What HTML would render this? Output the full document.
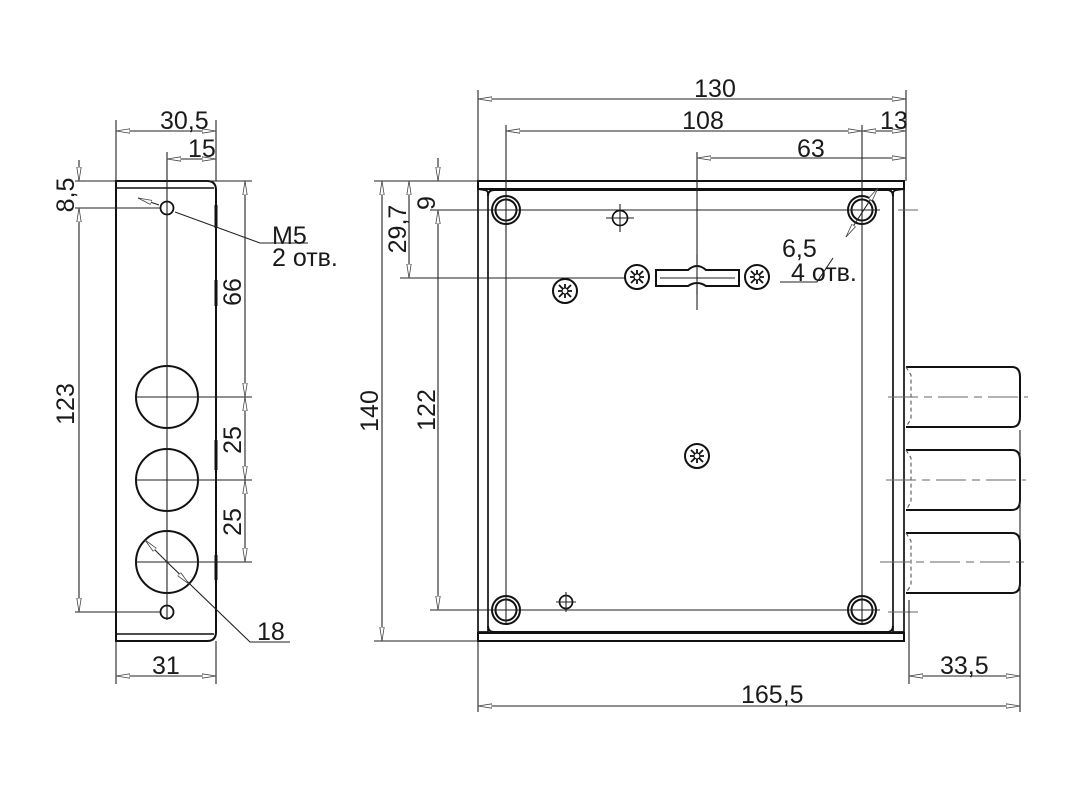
<!DOCTYPE html>
<html><head><meta charset="utf-8"><style>
html,body{margin:0;padding:0;background:#fff}
svg{display:block}
text{font-family:"Liberation Sans",Arial,sans-serif;font-size:25px;fill:#1a1a1a}
</style></head><body>
<svg width="1091" height="789" viewBox="0 0 1091 789" xmlns="http://www.w3.org/2000/svg">
<defs>
<marker id="a" viewBox="0 0 14 6" refX="14" refY="3" markerWidth="14" markerHeight="6" orient="auto-start-reverse" markerUnits="userSpaceOnUse">
<path d="M0,0.8 L14,3 L0,5.2 Z" fill="#fff" stroke="#444" stroke-width="0.8"/></marker>
<g id="scr"><circle r="12" fill="#fff" stroke="#111" stroke-width="2"/>
<path d="M-6,-6 L6,6 M-6,6 L6,-6 M0,-7 V7 M-7,0 H7" stroke="#111" stroke-width="1.8"/>
<circle r="3" fill="#fff" stroke="#111" stroke-width="1.2"/></g>
<g id="hole"><circle r="14" fill="#fff" stroke="#111" stroke-width="2"/><circle r="10.5" fill="none" stroke="#111" stroke-width="2"/></g>
</defs>
<g stroke="#222" stroke-width="1.1" fill="none">
<!-- LEFT VIEW -->
<path d="M116,181 H207 Q216,181 216,190 V632 Q216,641 207,641 H116 Z" stroke-width="2" stroke="#111"/>
<line x1="116" y1="188" x2="214" y2="188" stroke-width="1.6" stroke="#111"/>
<line x1="116" y1="634" x2="214" y2="634" stroke-width="1.6" stroke="#111"/>
<g stroke-width="3" stroke="#111"><line x1="216" y1="205" x2="216" y2="228"/><line x1="216" y1="280" x2="216" y2="306"/><line x1="216" y1="440" x2="216" y2="470"/><line x1="216" y1="555" x2="216" y2="580"/></g>
<circle cx="167" cy="208" r="6.5" stroke="#111" stroke-width="1.8"/>
<circle cx="167" cy="612" r="6.5" stroke="#111" stroke-width="1.8"/>
<circle cx="167" cy="397" r="31" stroke="#111" stroke-width="2"/>
<circle cx="167" cy="480" r="31" stroke="#111" stroke-width="2"/>
<circle cx="167" cy="562" r="31" stroke="#111" stroke-width="2"/>
<line x1="167" y1="152" x2="167" y2="620"/>
<line x1="136" y1="397" x2="252" y2="397"/>
<line x1="136" y1="480" x2="252" y2="480"/>
<line x1="136" y1="562" x2="252" y2="562"/>
<line x1="75" y1="181" x2="252" y2="181"/>
<line x1="75" y1="208" x2="160" y2="208"/>
<line x1="75" y1="612" x2="160" y2="612"/>
<line x1="116" y1="120" x2="116" y2="181"/><line x1="216" y1="120" x2="216" y2="181"/>
<line x1="116" y1="641" x2="116" y2="684"/><line x1="216" y1="641" x2="216" y2="684"/>
<line x1="116" y1="131" x2="216" y2="131" marker-start="url(#a)" marker-end="url(#a)"/>
<line x1="167" y1="159" x2="216" y2="159" marker-start="url(#a)" marker-end="url(#a)"/>
<line x1="116" y1="676" x2="216" y2="676" marker-start="url(#a)" marker-end="url(#a)"/>
<line x1="79" y1="160" x2="79" y2="181" marker-end="url(#a)"/>
<line x1="79" y1="208" x2="79" y2="612" marker-start="url(#a)" marker-end="url(#a)"/>
<line x1="245" y1="181" x2="245" y2="397" marker-start="url(#a)" marker-end="url(#a)"/>
<line x1="245" y1="397" x2="245" y2="480" marker-start="url(#a)" marker-end="url(#a)"/>
<line x1="245" y1="480" x2="245" y2="562" marker-start="url(#a)" marker-end="url(#a)"/>
<path d="M138,198 L159,205 M175,212 L260,243 H308" marker-start="url(#a)"/>
<path d="M145,540 L167,562 L250,642 H290"/>
<line x1="145" y1="540" x2="150" y2="545" marker-start="url(#a)"/>
<line x1="189" y1="584" x2="184" y2="579" marker-start="url(#a)"/>
<!-- RIGHT VIEW body -->
<g stroke="#111" stroke-width="2">
<rect x="478" y="181" width="426" height="8"/>
<rect x="478" y="633" width="426" height="8"/>
<path d="M478,189 V632 H488 V194 Q488,190 484,190 Z" stroke-width="1.7"/>
<path d="M904,189 V632 H893 V194 Q893,190 897,190 Z" stroke-width="1.7"/>
<path d="M488,626 Q488,632 494,632 H887 Q893,632 893,626"/>
<path d="M488,196 Q488,190 494,190 H887 Q893,190 893,196"/>
</g>
<!-- bolts -->
<g stroke="#111" stroke-width="2">
<path d="M906,367 H1012 Q1020,367 1020,377 V417 Q1020,427 1012,427 H906"/>
<path d="M906,450 H1012 Q1020,450 1020,460 V500 Q1020,510 1012,510 H906"/>
<path d="M906,533 H1012 Q1020,533 1020,543 V583 Q1020,593 1012,593 H906"/>
</g>
<g stroke-dasharray="4,3" stroke="#555"><path d="M906,367 L911,375 V419 L906,427"/><path d="M906,450 L911,458 V502 L906,510"/><path d="M906,533 L911,541 V585 L906,593"/></g>
<g stroke="#666" stroke-dasharray="30,6,8,6"><line x1="888" y1="397" x2="1028" y2="397"/><line x1="886" y1="480" x2="1026" y2="480"/><line x1="880" y1="562" x2="1026" y2="562"/></g>
<line x1="888" y1="612" x2="918" y2="612" stroke="#666"/>
<line x1="898" y1="210" x2="918" y2="210" stroke="#666"/>
<!-- centre lines -->
<line x1="506" y1="125" x2="506" y2="620"/>
<line x1="862" y1="125" x2="862" y2="620"/>
<line x1="697" y1="152" x2="697" y2="310"/>
<line x1="430" y1="210" x2="880" y2="210"/>
<line x1="400" y1="278" x2="650" y2="278"/>
<line x1="430" y1="610" x2="880" y2="610"/>
<use href="#hole" x="506" y="210"/><use href="#hole" x="862" y="210"/>
<use href="#hole" x="506" y="610"/><use href="#hole" x="862" y="610"/>
<line x1="506" y1="196" x2="506" y2="224"/><line x1="862" y1="196" x2="862" y2="224"/>
<line x1="506" y1="596" x2="506" y2="624"/><line x1="862" y1="596" x2="862" y2="624"/>
<line x1="492" y1="210" x2="520" y2="210"/><line x1="848" y1="210" x2="876" y2="210"/>
<line x1="492" y1="610" x2="520" y2="610"/><line x1="848" y1="610" x2="876" y2="610"/>
<circle cx="620" cy="218" r="7.5" stroke="#111" stroke-width="1.7"/>
<path d="M606,218 H634 M620,204 V232"/>
<circle cx="566" cy="602" r="6.5" stroke="#111" stroke-width="1.7"/>
<path d="M556,602 H576 M566,592 V612"/>
<!-- keyhole -->
<path d="M656,270 H688 Q697,262 706,270 H739 V286 H706 Q697,280 688,286 H656 Z" stroke="#111" stroke-width="2" fill="#fff"/>
<line x1="660" y1="278" x2="735" y2="278"/>
<line x1="697" y1="255" x2="697" y2="295"/>
</g>
<use href="#scr" x="637" y="277"/><use href="#scr" x="757" y="277"/>
<use href="#scr" x="565" y="291"/><use href="#scr" x="697" y="456"/>
<g stroke="#222" stroke-width="1.1" fill="none">
<!-- right dims -->
<line x1="478" y1="90" x2="478" y2="181"/><line x1="906" y1="90" x2="906" y2="181"/>
<line x1="478" y1="99" x2="906" y2="99" marker-start="url(#a)" marker-end="url(#a)"/>
<line x1="506" y1="131" x2="862" y2="131" marker-start="url(#a)" marker-end="url(#a)"/>
<line x1="862" y1="131" x2="906" y2="131" marker-start="url(#a)" marker-end="url(#a)"/>
<line x1="697" y1="158" x2="906" y2="158" marker-start="url(#a)" marker-end="url(#a)"/>
<line x1="374" y1="181" x2="478" y2="181"/><line x1="374" y1="641" x2="478" y2="641"/>
<line x1="382" y1="181" x2="382" y2="641" marker-start="url(#a)" marker-end="url(#a)"/>
<line x1="409" y1="181" x2="409" y2="278" marker-start="url(#a)" marker-end="url(#a)"/>
<line x1="438" y1="158" x2="438" y2="181" marker-end="url(#a)"/>
<line x1="438" y1="210" x2="438" y2="610" marker-start="url(#a)" marker-end="url(#a)"/>
<path d="M878,188 L852,228 M833,258 L817,282 H780"/>
<line x1="878" y1="188" x2="872" y2="197" marker-start="url(#a)"/>
<line x1="846" y1="237" x2="852" y2="228" marker-start="url(#a)"/>
<line x1="478" y1="641" x2="478" y2="712"/><line x1="1020" y1="430" x2="1020" y2="712"/>
<line x1="909" y1="600" x2="909" y2="684"/>
<line x1="909" y1="676" x2="1020" y2="676" marker-start="url(#a)" marker-end="url(#a)"/>
<line x1="478" y1="706" x2="1020" y2="706" marker-start="url(#a)" marker-end="url(#a)"/>
</g>
<g>
<text x="160" y="129">30,5</text>
<text x="188" y="157">15</text>
<text x="74" y="195" transform="rotate(-90 74 195)" text-anchor="middle">8,5</text>
<text x="74" y="404" transform="rotate(-90 74 404)" text-anchor="middle">123</text>
<text x="241" y="292" transform="rotate(-90 241 292)" text-anchor="middle">66</text>
<text x="241" y="440" transform="rotate(-90 241 440)" text-anchor="middle">25</text>
<text x="241" y="522" transform="rotate(-90 241 522)" text-anchor="middle">25</text>
<text x="272" y="244">M5</text>
<text x="272" y="266">2 отв.</text>
<text x="257" y="640">18</text>
<text x="152" y="674">31</text>
<text x="715" y="97" text-anchor="middle">130</text>
<text x="703" y="129" text-anchor="middle">108</text>
<text x="880" y="129">13</text>
<text x="797" y="157">63</text>
<text x="378" y="411" transform="rotate(-90 378 411)" text-anchor="middle">140</text>
<text x="406" y="229" transform="rotate(-90 406 229)" text-anchor="middle">29,7</text>
<text x="435" y="203" transform="rotate(-90 435 203)" text-anchor="middle">9</text>
<text x="435" y="410" transform="rotate(-90 435 410)" text-anchor="middle">122</text>
<text x="782" y="257">6,5</text>
<text x="791" y="281">4 отв.</text>
<text x="940" y="674">33,5</text>
<text x="741" y="703">165,5</text>
</g>
</svg>
</body></html>
